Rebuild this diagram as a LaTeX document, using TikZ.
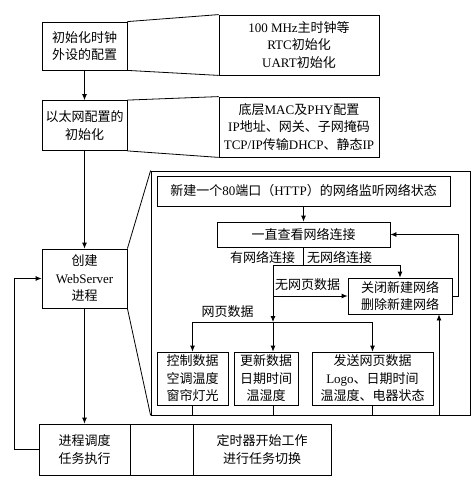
\documentclass[tikz,border=0pt]{standalone}
\usepackage{fontspec}
\setmainfont{Liberation Serif}
\newfontfamily\cjk{Noto Sans CJK SC}
\newcommand{\zw}[1]{{\cjk #1}}
\usepackage{tikz}
\usetikzlibrary{arrows.meta, positioning, calc}

\begin{document}
\begin{tikzpicture}[
      x=1pt, y=-1pt,
      line width=0.8pt,
      >={Latex[length=6pt,width=5pt]},
      every node/.style={font=\fontsize{13}{17.5}\selectfont, align=center, inner sep=0pt},
      box/.style={draw, minimum height=#1},
      box/.default=50pt,
      lbl/.style={}
    ]
      \useasboundingbox (0,0) rectangle (476,487);

      % left column
      \node[box=48pt, minimum width=85pt] (init) at (84.5,46) {\zw{初始化时钟}\\\zw{外设的配置}};
      \node[box=60pt, minimum width=160pt] (initd) at (299,45) {100 MHz\zw{主时钟等}\\RTC\zw{初始化}\\UART\zw{初始化}};
      \node[box=50pt, minimum width=85pt] (eth) at (84.5,125.5) {\zw{以太网配置的}\\\zw{初始化}};
      \node[box=60pt, minimum width=160pt] (ethd) at (299,127) {\zw{底层}MAC\zw{及}PHY\zw{配置}\\IP\zw{地址、网关、子网掩码}\\TCP/IP\zw{传输}DHCP\zw{、静态}IP};
      \node[box=59pt, minimum width=85pt] (web) at (84.5,278.5) {\zw{创建}\\WebServer\\\zw{进程}};

      % webserver detail
      \node[box=244pt, minimum width=319pt] (frame) at (310.5,293) {};
      \node[box=30pt, minimum width=293pt] (listen) at (303.5,191) {\zw{新建一个}80\zw{端口（}HTTP\zw{）的网络监听网络状态}};
      \node[box=25pt, minimum width=173pt] (look) at (303.5,234.5) {\zw{一直查看网络连接}};
      \node[box=36pt, minimum width=104pt] (close) at (400,296) {\zw{关闭新建网络}\\\zw{删除新建网络}};
      \node[box=53pt, minimum width=71pt] (ctrl) at (192.5,378.5) {\zw{控制数据}\\\zw{空调温度}\\\zw{窗帘灯光}};
      \node[box=53pt, minimum width=64pt] (upd) at (266,378.5) {\zw{更新数据}\\\zw{日期时间}\\\zw{温湿度}};
      \node[box=53pt, minimum width=121pt] (send) at (372.5,378.5) {\zw{发送网页数据}\\Logo\zw{、日期时间}\\\zw{温湿度、电器状态}};

      % bottom row
      \node[box=51pt, minimum width=91pt] (sched) at (84.5,449.5) {\zw{进程调度}\\\zw{任务执行}};
      \node[box=51pt, minimum width=63pt] (gap) at (161.5,449.5) {};
      \node[box=51pt, minimum width=138pt] (timer) at (262,449.5) {\zw{定时器开始工作}\\\zw{进行任务切换}};

      \coordinate (split) at (273,265);
      \coordinate (dist) at (273,322);
      \coordinate (ret) at (439,415);

      % labels
      \node[lbl] (yes) at (262.5,257) {\zw{有网络连接}};
      \node[lbl] (no) at (339.5,257) {\zw{无网络连接}};
      \node[lbl] (nopage) at (307.5,285) {\zw{无网页数据}};
      \node[lbl] (page) at (227.5,312) {\zw{网页数据}};

      % zoom lines
      \draw (init.north east) -- (initd.north west);
      \draw (init.south east) -- (initd.south west);
      \draw (eth.north east) -- (ethd.north west);
      \draw (eth.south east) -- (ethd.south west);
      \draw (web.north east) -- (frame.north west);
      \draw (web.south east) -- (frame.south west);

      % main flow
      \draw[->] (init) -- (eth);
      \draw[->] (eth) -- (web);
      \draw[->] (web) -- (sched);
      \draw[->] (sched.west) -- ++(-24,0) |- (web.west);

      % inner flow
      \draw[->] (listen) -- (look);
      \draw (look.south) -- (look.south |- split);
      \draw[->] (split) -| (close.north);
      \draw[->] (split |- close.west) -- (close.west);
      \draw[->] (split) -- (dist);
      \draw (ctrl.north |- dist) -- (send.north |- dist);
      \draw[->] (ctrl.north |- dist) -- (ctrl.north);
      \draw[->] (dist) -- (dist |- upd.north);
      \draw[->] (send.north |- dist) -- (send.north);
      \draw (ctrl.south) -- (ctrl.south |- frame.south);
      \draw (dist |- upd.south) -- (dist |- frame.south);
      \draw (send.south) -- (send.south |- frame.south);
      \draw[->] (ret) -- (ret |- close.south);
      \draw[->] (close.east) -- ++(6,0) |- (look.east);
    \end{tikzpicture}
\end{document}
